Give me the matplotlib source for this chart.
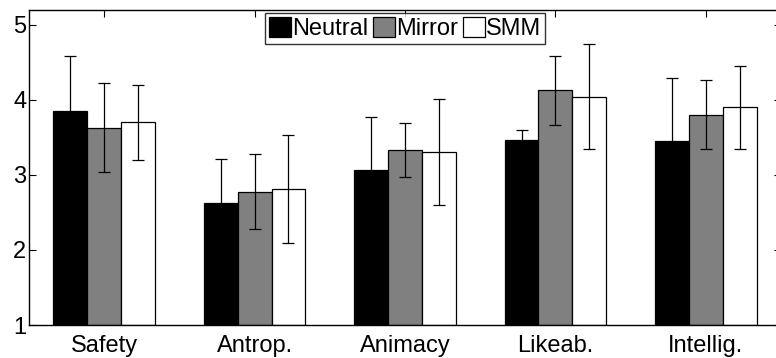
import numpy as np
import matplotlib
matplotlib.use("Agg")
import matplotlib.pyplot as plt

categories = ["Safety", "Antrop.", "Animacy", "Likeab.", "Intellig."]
series = ["Neutral", "Mirror", "SMM"]
neutral = [3.85, 2.62, 3.07, 3.47, 3.45]
mirror = [3.63, 2.78, 3.33, 4.13, 3.80]
smm = [3.70, 2.81, 3.31, 4.04, 3.90]
neutral_err = [0.74, 0.59, 0.70, 0.13, 0.84]
mirror_err = [0.59, 0.50, 0.36, 0.46, 0.46]
smm_err = [0.50, 0.72, 0.71, 0.70, 0.55]
yticks = [1, 2, 3, 4, 5]

plt.rcParams["font.family"] = ["Liberation Sans", "DejaVu Sans"]

fig = plt.figure(figsize=(7.76, 3.58), dpi=100)
# axes runs slightly past the right edge of the figure, like the original
ax = fig.add_axes([29 / 776, 1 - 325 / 358, 752 / 776, 315 / 358])

x = np.arange(1, len(categories) + 1)
w = 0.225
colors = ["black", "#808080", "white"]
values = [neutral, mirror, smm]
errs = [neutral_err, mirror_err, smm_err]

for i, (vals, err, col, name) in enumerate(zip(values, errs, colors, series)):
    pos = x + (i - 1) * w
    ax.bar(pos, np.array(vals) - 1, w, bottom=1, color=col,
           edgecolor="black", linewidth=0.9, label=name, zorder=2)
    ax.errorbar(pos, vals, yerr=err, fmt="none", ecolor="black",
                elinewidth=0.9, capsize=4, capthick=0.9, zorder=3)

ax.set_xlim(0.5, 5.5)
ax.set_ylim(1, 5.2)
ax.set_yticks(yticks)
ax.set_xticks(x)
ax.set_xticklabels(categories)
ax.tick_params(axis="both", labelsize=17, direction="in", length=5,
               width=0.8, top=True, right=True)
ax.tick_params(axis="x", pad=7)
ax.tick_params(axis="y", pad=2)
for s in ax.spines.values():
    s.set_linewidth(1.0)

leg = ax.legend(loc="upper center", bbox_to_anchor=(0.5, 0.99), ncol=3,
                fontsize=17, frameon=True, fancybox=False, borderpad=0.15,
                handlelength=0.93, handleheight=0.95, handletextpad=0.05,
                columnspacing=0.2, borderaxespad=0.0)
leg.get_frame().set_edgecolor("black")
leg.get_frame().set_linewidth(1.0)

fig.savefig("out.png", dpi=100)
